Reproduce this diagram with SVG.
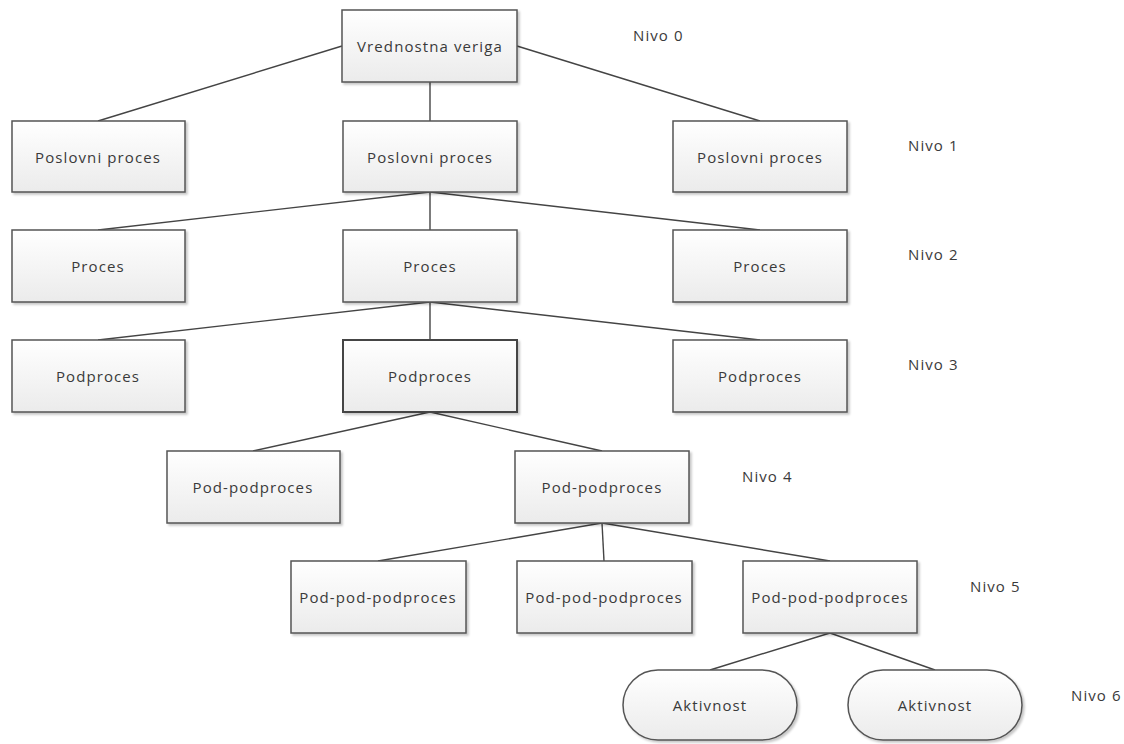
<svg xmlns="http://www.w3.org/2000/svg" width="1124" height="744" viewBox="0 0 1124 744">
  <defs>
    <linearGradient id="boxFill" x1="0" y1="0" x2="0" y2="1">
      <stop offset="0" stop-color="#ffffff"/>
      <stop offset="1" stop-color="#ebebeb"/>
    </linearGradient>
    <filter id="shadow" x="-10%" y="-10%" width="130%" height="130%">
      <feDropShadow dx="2" dy="2" stdDeviation="1.2" flood-color="#000" flood-opacity="0.22"/>
    </filter>
    <style>
      .box { fill: url(#boxFill); stroke: #555; stroke-width: 1.5; filter: url(#shadow); }
      .box.strong { stroke: #444; stroke-width: 2; }
      .lbl { font-family: "Open Sans", "Liberation Sans", sans-serif; font-size: 15px; letter-spacing: 1.1px; fill: #3a3a3a; text-anchor: middle; dominant-baseline: central; }
      .lvl { font-family: "Open Sans", "Liberation Sans", sans-serif; font-size: 15px; letter-spacing: 1.1px; fill: #3a3a3a; dominant-baseline: central; }
      .conn line { stroke: #444; stroke-width: 1.4; }
    </style>
  </defs>
  <rect width="1124" height="744" fill="#fff"/>

  <!-- connectors -->
  <g id="connectors" class="conn">
    <line x1="342" y1="46" x2="98" y2="121"/>
    <line x1="517" y1="46" x2="760" y2="121"/>
    <line x1="430" y1="82" x2="430" y2="121"/>

    <line x1="430" y1="192" x2="98" y2="230"/>
    <line x1="430" y1="192" x2="430" y2="230"/>
    <line x1="430" y1="192" x2="760" y2="230"/>

    <line x1="430" y1="302" x2="98" y2="340"/>
    <line x1="430" y1="302" x2="430" y2="340"/>
    <line x1="430" y1="302" x2="760" y2="340"/>

    <line x1="430" y1="412" x2="253" y2="451"/>
    <line x1="430" y1="412" x2="602" y2="451"/>

    <line x1="602" y1="523" x2="378" y2="561"/>
    <line x1="602" y1="523" x2="604" y2="561"/>
    <line x1="602" y1="523" x2="830" y2="561"/>

    <line x1="830" y1="633" x2="710" y2="670"/>
    <line x1="830" y1="633" x2="935" y2="670"/>
  </g>

  <!-- level 0 -->
  <g id="n0"><rect class="box" x="342" y="10" width="175" height="72"/><text class="lbl" x="430" y="46">Vrednostna veriga</text></g>

  <!-- level 1 -->
  <g id="n1a"><rect class="box" x="12" y="121" width="173" height="71"/><text class="lbl" x="98" y="157">Poslovni proces</text></g>
  <g id="n1b"><rect class="box" x="343" y="121" width="174" height="71"/><text class="lbl" x="430" y="157">Poslovni proces</text></g>
  <g id="n1c"><rect class="box" x="673" y="121" width="174" height="71"/><text class="lbl" x="760" y="157">Poslovni proces</text></g>

  <!-- level 2 -->
  <g id="n2a"><rect class="box" x="12" y="230" width="173" height="72"/><text class="lbl" x="98" y="266">Proces</text></g>
  <g id="n2b"><rect class="box" x="343" y="230" width="174" height="72"/><text class="lbl" x="430" y="266">Proces</text></g>
  <g id="n2c"><rect class="box" x="673" y="230" width="174" height="72"/><text class="lbl" x="760" y="266">Proces</text></g>

  <!-- level 3 -->
  <g id="n3a"><rect class="box" x="12" y="340" width="173" height="72"/><text class="lbl" x="98" y="376">Podproces</text></g>
  <g id="n3b"><rect class="box strong" x="343" y="340" width="174" height="72"/><text class="lbl" x="430" y="376">Podproces</text></g>
  <g id="n3c"><rect class="box" x="673" y="340" width="174" height="72"/><text class="lbl" x="760" y="376">Podproces</text></g>

  <!-- level 4 -->
  <g id="n4a"><rect class="box" x="167" y="451" width="173" height="72"/><text class="lbl" x="253" y="487">Pod-podproces</text></g>
  <g id="n4b"><rect class="box" x="515" y="451" width="174" height="72"/><text class="lbl" x="602" y="487">Pod-podproces</text></g>

  <!-- level 5 -->
  <g id="n5a"><rect class="box" x="291" y="561" width="175" height="72"/><text class="lbl" x="378" y="597">Pod-pod-podproces</text></g>
  <g id="n5b"><rect class="box" x="517" y="561" width="175" height="72"/><text class="lbl" x="604" y="597">Pod-pod-podproces</text></g>
  <g id="n5c"><rect class="box" x="743" y="561" width="174" height="72"/><text class="lbl" x="830" y="597">Pod-pod-podproces</text></g>

  <!-- level 6 -->
  <g id="n6a"><rect class="box" x="623" y="670" width="174" height="70" rx="35" ry="35"/><text class="lbl" x="710" y="705">Aktivnost</text></g>
  <g id="n6b"><rect class="box" x="848" y="670" width="174" height="70" rx="35" ry="35"/><text class="lbl" x="935" y="705">Aktivnost</text></g>

  <!-- level captions -->
  <g id="levels">
    <text class="lvl" x="633" y="35">Nivo 0</text>
    <text class="lvl" x="908" y="145">Nivo 1</text>
    <text class="lvl" x="908" y="254">Nivo 2</text>
    <text class="lvl" x="908" y="364">Nivo 3</text>
    <text class="lvl" x="742" y="476">Nivo 4</text>
    <text class="lvl" x="970" y="586">Nivo 5</text>
    <text class="lvl" x="1071" y="695">Nivo 6</text>
  </g>
</svg>
